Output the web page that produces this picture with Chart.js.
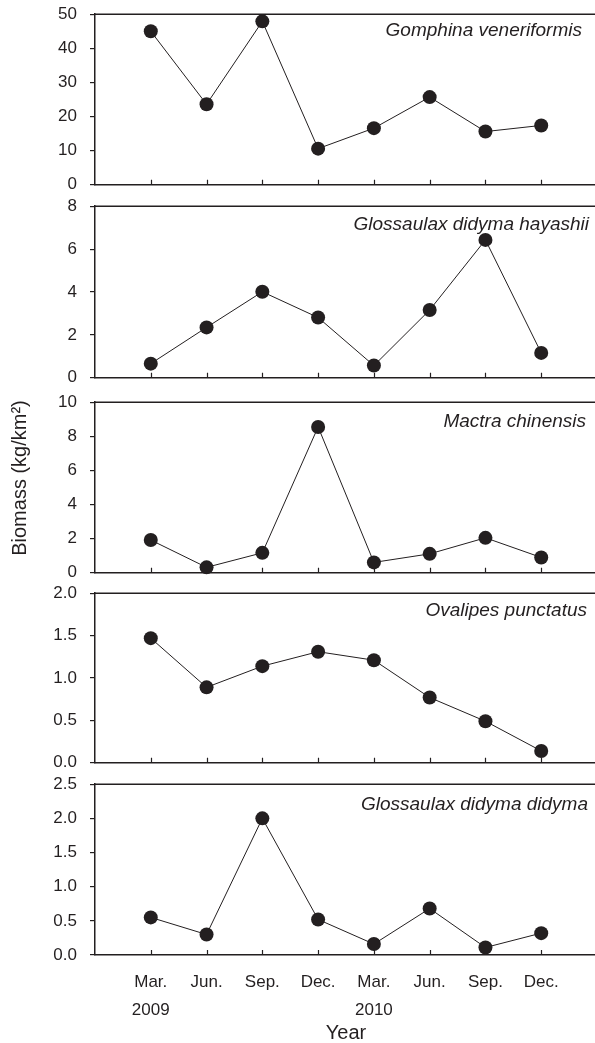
<!DOCTYPE html>
<html><head><meta charset="utf-8">
<script src="https://cdn.jsdelivr.net/npm/chart.js@4.4.0/dist/chart.umd.min.js"></script>
<style>
html,body{margin:0;padding:0;background:#fff;overflow:hidden;width:595px;height:1043px;position:relative;}
.p{position:absolute;left:0;}
canvas{display:block;}
</style></head><body>
<div class="p" id="w0"><canvas id="c0"></canvas></div>
<div class="p" id="w1"><canvas id="c1"></canvas></div>
<div class="p" id="w2"><canvas id="c2"></canvas></div>
<div class="p" id="w3"><canvas id="c3"></canvas></div>
<div class="p" id="w4"><canvas id="c4"></canvas></div>
<script>
// ---- data ----
const monthLabels = ['Mar.','Jun.','Sep.','Dec.','Mar.','Jun.','Sep.','Dec.'];
const yearLabels  = ['2009','','','','2010','','',''];
const speciesNames = ['Gomphina veneriformis','Glossaulax didyma hayashii','Mactra chinensis','Ovalipes punctatus','Glossaulax didyma didyma'];
const gomphina = [45.0, 23.6, 47.9, 10.6, 16.6, 25.7, 15.6, 17.4];
const hayashii = [0.66, 2.35, 4.01, 2.81, 0.57, 3.16, 6.43, 1.16];
const mactra   = [1.92, 0.32, 1.17, 8.55, 0.61, 1.11, 2.05, 0.90];
const ovalipes = [1.47, 0.89, 1.14, 1.31, 1.21, 0.77, 0.49, 0.14];
const didyma   = [0.55, 0.30, 2.00, 0.52, 0.16, 0.68, 0.11, 0.32];
const seriesList = [gomphina, hayashii, mactra, ovalipes, didyma];
const yMax = [50, 8, 10, 2.0, 2.5];
const yStep = [10, 2, 2, 0.5, 0.5];
const yDecimals = [0, 0, 0, 1, 1];
const yTitle = 'Biomass (kg/km\u00B2)';
const xTitle = 'Year';

// ---- layout / style ----
const INK = '#231f20';
const FAMILY = '"Liberation Sans", Arial, Helvetica, sans-serif';
const AREA_LEFT = 95, AREA_RIGHT = 597;
const plotTop = [14, 206, 402, 593, 784];
const plotH = [171, 172, 171, 170, 171];
const labelRight = [582, 589, 586, 587, 588];
const labelBase = [22, 24, 25, 23, 26];

const framePlugin = {
  id: 'frame',
  beforeDatasetsDraw(chart, args, opts) {
    const {ctx, chartArea: a, scales: {x}} = chart;
    ctx.save();
    ctx.strokeStyle = INK;
    ctx.lineWidth = 1.5;
    ctx.beginPath();
    ctx.moveTo(a.left - 0.75, a.top);
    ctx.lineTo(a.right, a.top);
    ctx.stroke();
    ctx.lineWidth = 1.2;
    ctx.beginPath();
    monthLabels.forEach((m, i) => {
      const px = Math.round(x.getPixelForValue(i)) + 0.5;
      ctx.moveTo(px, a.bottom);
      ctx.lineTo(px, a.bottom - 5);
    });
    ctx.stroke();
    ctx.font = 'italic 19px ' + FAMILY;
    ctx.fillStyle = INK;
    ctx.textAlign = 'right';
    ctx.textBaseline = 'alphabetic';
    ctx.fillText(opts.name, opts.right - opts.offX, a.top + opts.base);
    if (opts.yTitle) {
      ctx.translate(opts.yTitleX - opts.offX, opts.yTitleY - opts.offY);
      ctx.rotate(-Math.PI / 2);
      ctx.font = '20px ' + FAMILY;
      ctx.textAlign = 'center';
      ctx.textBaseline = 'middle';
      ctx.fillText(opts.yTitle, 0, 0);
    }
    ctx.restore();
  }
};

function build(i, cv, W, H, offX, offY) {
  const vals = seriesList[i];
  const last = i === seriesList.length - 1;
  cv.width = W; cv.height = H;
  cv.style.width = W + 'px'; cv.style.height = H + 'px';
  const frameOpts = {name: speciesNames[i], right: labelRight[i], base: labelBase[i], offX: offX, offY: offY};
  if (i === 2) {
    frameOpts.yTitle = yTitle;
    frameOpts.yTitleX = 20;
    frameOpts.yTitleY = 478;
  }
  return new Chart(cv, {
    type: 'line',
    data: {
      datasets: [{
        data: vals.map((v, k) => ({x: k, y: v})),
        borderColor: INK,
        borderWidth: 1,
        backgroundColor: INK,
        pointBackgroundColor: INK,
        pointBorderWidth: 0,
        pointRadius: 7,
        tension: 0,
        clip: false
      }]
    },
    options: {
      responsive: false,
      maintainAspectRatio: false,
      animation: false,
      devicePixelRatio: 1,
      layout: {padding: 0},
      plugins: {
        legend: {display: false},
        tooltip: {enabled: false},
        frame: frameOpts
      },
      scales: {
        x: {
          type: 'linear', min: -1, max: 8,
          afterFit: s => { s.height = last ? 88 : 0; },
          grid: {display: false, drawTicks: false},
          border: {display: true, color: INK, width: 1.5},
          ticks: {
            display: last, stepSize: 1, autoSkip: false, maxRotation: 0,
            padding: 13, color: INK,
            font: {size: 17, family: FAMILY, lineHeight: 28 / 17},
            callback: v => (v >= 0 && v < monthLabels.length) ? [monthLabels[v], yearLabels[v]] : ''
          },
          title: {
            display: last, text: xTitle, color: INK,
            font: {size: 20, family: FAMILY, lineHeight: 1},
            padding: {top: 0, bottom: 0}
          }
        },
        y: {
          min: 0, max: yMax[i],
          afterFit: s => { s.width = AREA_LEFT; },
          grid: {display: true, drawOnChartArea: false, drawTicks: true, tickLength: 5, color: INK, lineWidth: 1.2},
          border: {display: true, color: INK, width: 1.5},
          ticks: {
            stepSize: yStep[i], padding: 13, color: INK,
            font: {size: 17, family: FAMILY},
            callback: v => Number(v).toFixed(yDecimals[i])
          }
        }
      }
    },
    plugins: [framePlugin]
  });
}

seriesList.forEach((vals, i) => {
  const wrap = document.getElementById('w' + i);
  const cv = document.getElementById('c' + i);
  const last = i === seriesList.length - 1;
  let W = AREA_RIGHT, H = plotH[i] + 24 + (last ? 88 : 0);
  let offX = 0, offY = plotTop[i] - 12;
  let chart = null;
  for (let it = 0; it < 4; it++) {
    if (chart) chart.destroy();
    chart = build(i, cv, W, H, offX, offY);
    const a = chart.chartArea;
    const t = a.top, b = H - a.bottom, l = a.left, r = W - a.right;
    const nW = Math.round((AREA_RIGHT - AREA_LEFT) + l + r);
    const nH = Math.round(plotH[i] + t + b);
    const nOffX = Math.round(AREA_LEFT - l);
    const nOffY = Math.round(plotTop[i] - t);
    if (last) { /* keep canvas bottom at page bottom */ }
    const same = nW === W && nH === H && nOffX === offX && nOffY === offY;
    W = nW; H = nH; offX = nOffX; offY = nOffY;
    wrap.style.left = offX + 'px';
    wrap.style.top = offY + 'px';
    if (same) break;
  }
  if (chart) chart.destroy();
  build(i, cv, W, H, offX, offY);
});
</script>
</body></html>
